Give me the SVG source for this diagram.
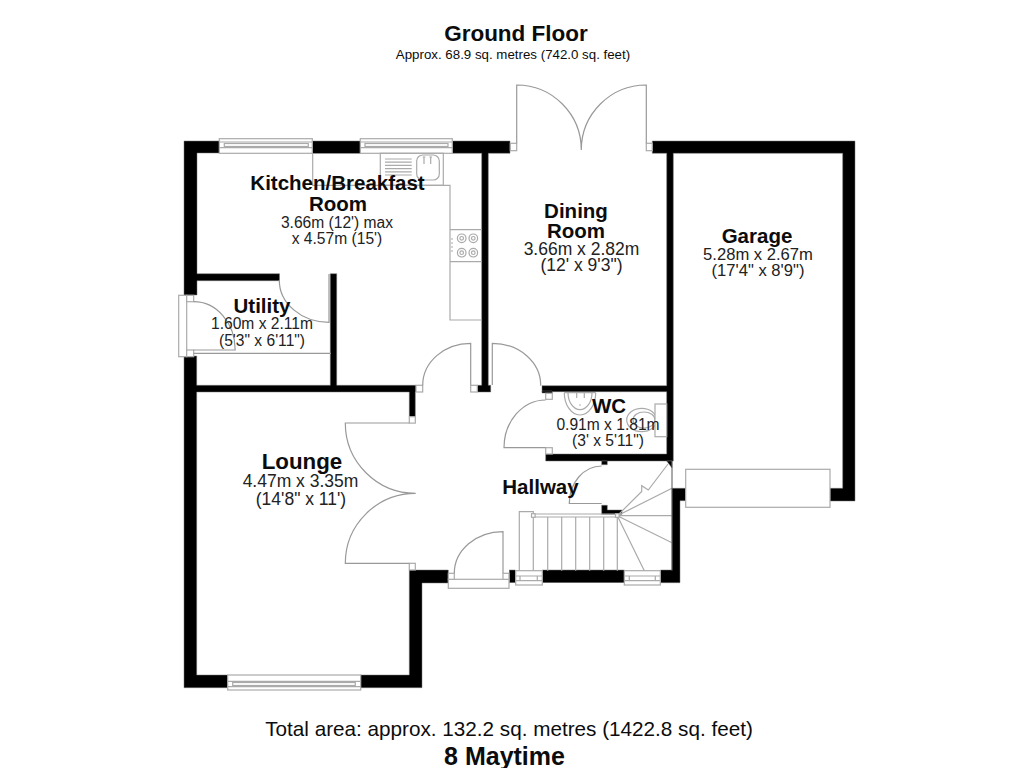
<svg xmlns="http://www.w3.org/2000/svg" width="1024" height="768" viewBox="0 0 1024 768">
<defs>
<style>
text{font-family:"Liberation Sans",Arial,sans-serif;text-anchor:middle;fill:#0c0c0c}
.t{font-size:20.5px;font-weight:700}
.s{font-size:15.6px;fill:#222}
.b{font-size:17.5px;fill:#222}
.w{fill:#000;stroke:#777;stroke-width:.5}
.l{fill:none;stroke:#aaa;stroke-width:1.2}
.f{fill:#fff;stroke:#aaa;stroke-width:1.2}
.d{fill:none;stroke:#999;stroke-width:1.2}
</style>
</defs>
<rect width="1024" height="768" fill="#fff"/>
<g id="walls">
<path class="w" d="M184 141H219.5V153H197V273.7H279.5V280.7H197V295H184Z"/>
<rect class="w" x="312.5" y="141" width="48" height="12.3"/>
<path class="w" d="M452.5 141H510V153.3H488.3V385.3H490.7V392H477.3V385.3H481.7V153.3H452.5Z"/>
<path class="w" d="M330.3 273.7H336.7V385.3H416V392H415.3V416.7H409.3V392H196.7V675H228V687.7H184V356H196.7V385.3H330.3Z"/>
<path class="w" d="M360.3 675H409.3V570H448.3V583H422V687.7H360.3Z"/>
<path class="w" d="M652.3 141H855V501H830V488.3H842.7V153.3H673.3V461H545.7V454H666.7V391.7H542V385.7H666.7V153.3H652.3Z"/>
<path class="w" d="M666.7 461H672V468Z"/>
<path class="w" d="M601.7 461H607.3V464.7H601.7Z"/>
<path class="w" d="M601.7 505.3H607.3V510H622V514.3H601.7Z"/>
<path class="w" d="M542 391H552.3V393H542Z"/>
<path class="w" d="M672 488.3H685.7V500.7H680V582.7H660.3V570H672Z"/>
<rect class="w" x="509.3" y="570" width="6" height="12.7"/>
<rect class="w" x="542.3" y="570" width="82" height="12.7"/>
</g>
<g id="windows">
<g id="window-kitchen-1"><rect class="f" x="219.3" y="138.7" width="93" height="14.6"/><path class="l" d="M219.3 142H312.3M219.3 147.7H312.3"/><rect class="l" x="224.3" y="143.5" width="84" height="3"/></g>
<g id="window-kitchen-2"><rect class="f" x="360.3" y="138.7" width="92" height="14.6"/><path class="l" d="M360.3 142H452.3M360.3 147.7H452.3"/><rect class="l" x="365" y="143.5" width="83" height="3"/></g>
<g id="window-lounge"><rect class="f" x="227.7" y="675" width="133" height="15"/><path class="l" d="M227.7 681.3H360.7M227.7 686.7H360.7"/><rect class="l" x="232.7" y="682.5" width="122.6" height="3"/></g>
<g id="window-hall-1"><rect class="f" x="515.7" y="570.7" width="26.6" height="14.3"/><path class="l" d="M515.7 576H542.3M515.7 580.7H542.3M520 576V580.7M537.3 576V580.7"/></g>
<g id="window-hall-2"><rect class="f" x="624.3" y="570.7" width="36" height="14.3"/><path class="l" d="M624.3 576H660.3M624.3 580.7H660.3M629.3 576V580.7M655.3 576V580.7"/></g>
<rect id="garage-door" class="f" x="685.7" y="469.3" width="144.3" height="38"/>
</g>
<g id="doors">
<g id="door-french">
<rect class="f" x="510.3" y="143.3" width="6.4" height="7.4"/><rect class="f" x="646.3" y="143.3" width="6" height="7.4"/>
<path class="d" d="M516.7 143.3V85A64.6 65 0 0 1 581.3 150A64.9 65 0 0 1 646.3 85V143.3"/>
</g>
<g id="door-utility-ext">
<rect class="f" x="178.7" y="295.3" width="8" height="61.4"/><rect class="f" x="186.7" y="295.3" width="7" height="6.4"/><rect class="f" x="186.7" y="350" width="7" height="6.7"/>
<path class="d" d="M193.7 301.7A41.5 48.3 0 0 1 235.2 350H193.7M193.7 353.3H331"/>
</g>
<path id="door-utility" class="d" d="M279.3 280A49.7 42 0 0 0 329 322.3V274"/>
<g id="door-lounge">
<rect class="f" x="409.3" y="416.7" width="6" height="6.4"/><rect class="f" x="409.3" y="563.3" width="6" height="6.7"/>
<path class="d" d="M409.3 423H345.3A70.4 70.3 0 0 0 415.7 493.3A70.4 70 0 0 0 345.3 563.3H409.3"/>
</g>
<g id="door-kitchen">
<rect class="f" x="416" y="385.3" width="6.7" height="6.7"/><rect class="f" x="470.7" y="385.3" width="6.6" height="6.7"/>
<path class="d" d="M422.7 385.3A48 42 0 0 1 470.7 343.3V385.3"/>
</g>
<g id="door-dining">
<path class="d" d="M492.3 385V343.3A48.4 42 0 0 1 540.7 385.7"/>
</g>
<g id="door-wc">
<rect class="f" x="545.7" y="393.3" width="6.6" height="6"/><rect class="f" x="545.7" y="447.7" width="6.6" height="6.3"/>
<path class="d" d="M545.7 400A41.7 47.7 0 0 0 504 447.7H545.7"/>
</g>
<path id="door-cupboard" class="d" d="M601.7 466A32.4 37.3 0 0 0 569.3 503.5H601.7"/>
<g id="door-front">
<rect class="f" x="448.3" y="579.3" width="60.7" height="9"/>
<rect class="f" x="448.3" y="573.3" width="6" height="6"/><rect class="f" x="503" y="573.3" width="6" height="6"/>
<path class="d" d="M454.3 573.3A48.7 41.7 0 0 1 503 531.6V573.3"/>
</g>
</g>
<g id="stairs">
<path class="l" d="M519.3 570.7V511.7H533.3V570.7M533.3 514H617.3M533.3 517H617.3"/>
<path class="l" d="M547.7 517V570.7M561.7 517V570.7M575.7 517V570.7M589.7 517V570.7M603.7 517V570.7M617.3 517V570.7"/>
<path class="l" d="M617.3 515.7H672M617.3 515.7L672 542.7M617.3 515.7L644.3 570.7M617.3 515.7L641.7 491.5V485.7L648.3 490L668 464M617.3 515.7L672 488.3"/>
<path d="M672 461V570.7" fill="none" stroke="#555" stroke-width="1"/>
<rect class="f" x="531.5" y="513.7" width="3.6" height="3.6"/><rect class="f" x="615.5" y="513.7" width="3.6" height="3.6"/>
</g>
<g id="kitchen-fittings">
<path class="l" d="M312.7 153.3V185.3H450V320H481.7M450 229.7H481.7M450 261.7H481.7"/>
<rect class="l" x="380.3" y="153.3" width="63" height="32"/>
<path class="l" stroke-width=".8" d="M385 159H411.7M385 162.2H411.7M385 165.4H411.7M385 168.6H411.7M385 171.8H411.7M385 175H411.7"/>
<rect class="l" x="416.7" y="155" width="22.6" height="25" rx="6"/>
<path class="l" d="M424 164V157M430.7 164V157M422.7 157H425.3M429.4 157H432"/>
<circle class="l" cx="461.7" cy="238.3" r="4.3"/><circle class="l" cx="461.7" cy="238.3" r="1.8"/>
<circle class="l" cx="473.3" cy="238.3" r="4.3"/><circle class="l" cx="473.3" cy="238.3" r="1.8"/>
<circle class="l" cx="461.7" cy="252.7" r="4.3"/><circle class="l" cx="461.7" cy="252.7" r="1.8"/>
<circle class="l" cx="473.3" cy="252.7" r="4.3"/><circle class="l" cx="473.3" cy="252.7" r="1.8"/>
<path class="l" d="M451 239H453M451 243H453M451 247H453M451 251H453"/>
</g>
<g id="wc-fittings">
<path class="l" d="M564.3 392.7H595.7M564.3 392.7A15.7 22.3 0 0 0 595.7 392.7"/>
<path class="l" d="M568 392.7A12 17 0 0 0 592 392.7"/>
<path class="l" d="M576.7 393V398M584.3 393V398"/>
<circle cx="580" cy="405" r=".8" fill="#aaa"/>
<ellipse class="l" cx="641.7" cy="420" rx="15" ry="11.7"/>
<ellipse class="l" cx="644" cy="420" rx="11" ry="8"/>
<rect class="f" x="655" y="404" width="11.7" height="32.7"/>
</g>
<g id="labels">
<text x="516" y="41" style="font-size:22.5px;font-weight:700">Ground Floor</text>
<text x="513" y="59" style="font-size:13.3px">Approx. 68.9 sq. metres (742.0 sq. feet)</text>
<text class="t" x="337.5" y="190">Kitchen/Breakfast</text>
<text class="t" x="338" y="211">Room</text>
<text class="s" x="337" y="228">3.66m (12') max</text>
<text class="s" x="337" y="244">x 4.57m (15')</text>
<text class="t" x="262" y="313">Utility</text>
<text class="s" x="262" y="329">1.60m x 2.11m</text>
<text class="s" x="262" y="346">(5'3" x 6'11")</text>
<text class="t" x="576" y="218">Dining</text>
<text class="t" x="576" y="238">Room</text>
<text class="b" x="581.5" y="255">3.66m x 2.82m</text>
<text class="b" x="581.5" y="271">(12' x 9'3")</text>
<text class="t" x="757" y="243">Garage</text>
<text class="s" style="font-size:16.6px" x="758" y="260">5.28m x 2.67m</text>
<text class="s" style="font-size:16.6px" x="758" y="276">(17'4" x 8'9")</text>
<text class="t" x="609" y="413">WC</text>
<text class="s" x="608" y="430">0.91m x 1.81m</text>
<text class="s" x="608" y="446">(3' x 5'11")</text>
<text x="302" y="469" style="font-size:22.3px;font-weight:700">Lounge</text>
<text class="b" x="300.5" y="487">4.47m x 3.35m</text>
<text class="b" x="301" y="505">(14'8" x 11')</text>
<text class="t" x="540.5" y="494">Hallway</text>
<text x="509" y="736" style="font-size:20.7px">Total area: approx. 132.2 sq. metres (1422.8 sq. feet)</text>
<text x="504.5" y="765" style="font-size:25px;font-weight:700">8 Maytime</text>
</g>
</svg>
